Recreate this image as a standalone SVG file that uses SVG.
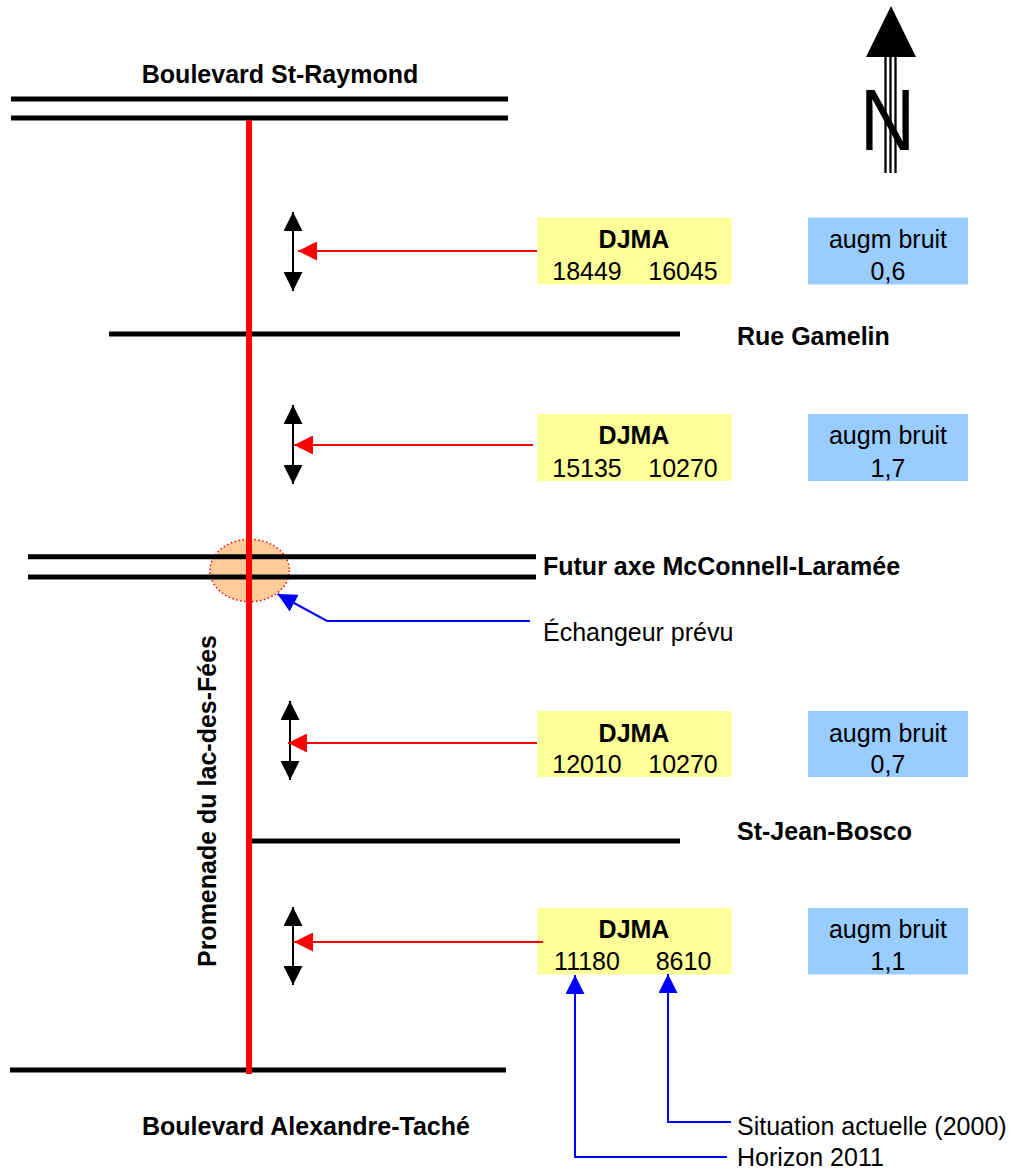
<svg xmlns="http://www.w3.org/2000/svg" width="1013" height="1173" viewBox="0 0 1013 1173">
<defs>
<style>
text{font-family:"Liberation Sans",Arial,sans-serif;font-size:25px;fill:#000}
.b{font-weight:bold}
.m{text-anchor:middle}
.road{stroke:#000;stroke-width:5;fill:none}
.yel{fill:#FFFF99}
.blu{fill:#99CCFF}
.dbl{stroke:#000;stroke-width:2;fill:none;marker-start:url(#ahK);marker-end:url(#ahK)}
.red{stroke:#FF0000;stroke-width:2;fill:none;marker-end:url(#ahR)}
.bl{stroke:#0000FF;stroke-width:2;fill:none;marker-end:url(#ahB)}
</style>
<marker id="ahK" viewBox="0 0 10 10" refX="10" refY="5" markerWidth="19" markerHeight="19" markerUnits="userSpaceOnUse" orient="auto-start-reverse"><path d="M0,0 L10,5 L0,10 z" fill="#000"/></marker>
<marker id="ahR" viewBox="0 0 10 10" refX="10" refY="5" markerWidth="19" markerHeight="19" markerUnits="userSpaceOnUse" orient="auto"><path d="M0,0 L10,5 L0,10 z" fill="#FF0000"/></marker>
<marker id="ahB" viewBox="0 0 10 10" refX="10" refY="5" markerWidth="19" markerHeight="19" markerUnits="userSpaceOnUse" orient="auto"><path d="M0,0 L10,5 L0,10 z" fill="#0000FF"/></marker>
</defs>
<rect width="1013" height="1173" fill="#fff"/>

<g id="north">
<polygon points="891,6 866,57 916,57" fill="#000"/>
<line x1="885.5" y1="56" x2="885.5" y2="173" stroke="#000" stroke-width="2.3"/>
<line x1="890.5" y1="56" x2="890.5" y2="173" stroke="#000" stroke-width="2.3"/>
<line x1="895.5" y1="56" x2="895.5" y2="173" stroke="#000" stroke-width="2.3"/>
<text transform="translate(887.5,150) scale(0.88,1)" class="m" style="font-size:86.6px">N</text>
</g>

<g id="interchange">
<ellipse cx="249.7" cy="570.5" rx="39.7" ry="31.2" fill="#FFCC99" stroke="#FF0000" stroke-width="1.5" stroke-dasharray="1.5 2.5"/>
</g>

<g id="roads">
<line class="road" x1="11" y1="99" x2="508" y2="99"/>
<line class="road" x1="11" y1="118" x2="508" y2="118"/>
<line class="road" x1="109" y1="334" x2="680" y2="334"/>
<line class="road" x1="28" y1="556.7" x2="536" y2="556.7"/>
<line class="road" x1="28" y1="577" x2="536" y2="577"/>
<line class="road" x1="252" y1="841" x2="680" y2="841"/>
<line class="road" x1="10" y1="1070" x2="506" y2="1070"/>
<line x1="249" y1="120" x2="249" y2="1074" stroke="#FF0000" stroke-width="6"/>
</g>

<g id="labels">
<text class="b m" x="280" y="83">Boulevard St-Raymond</text>
<text class="b" x="737" y="345">Rue Gamelin</text>
<text class="b" x="543" y="575">Futur axe McConnell-Laramée</text>
<text x="543" y="641">Échangeur prévu</text>
<text class="b" x="737" y="840">St-Jean-Bosco</text>
<text class="b" x="142" y="1135">Boulevard Alexandre-Taché</text>
<text x="737" y="1135">Situation actuelle (2000)</text>
<text x="737" y="1166">Horizon 2011</text>
<text class="b m" transform="translate(216,801) rotate(-90)">Promenade du lac-des-Fées</text>
</g>

<g id="djma1">
<rect class="yel" x="537.5" y="217.5" width="194" height="67"/>
<text class="b m" x="634" y="247.5">DJMA</text>
<text class="m" x="587" y="280">18449</text>
<text class="m" x="683" y="280">16045</text>
</g>
<g id="bruit1">
<rect class="blu" x="808" y="217.5" width="160" height="67"/>
<text class="m" x="888" y="247.5">augm bruit</text>
<text class="m" x="888" y="280">0,6</text>
</g>

<g id="djma2">
<rect class="yel" x="537.5" y="414" width="194" height="67"/>
<text class="b m" x="634" y="444">DJMA</text>
<text class="m" x="587" y="476.5">15135</text>
<text class="m" x="683" y="476.5">10270</text>
</g>
<g id="bruit2">
<rect class="blu" x="808" y="414" width="160" height="67"/>
<text class="m" x="888" y="444">augm bruit</text>
<text class="m" x="888" y="476.5">1,7</text>
</g>

<g id="djma3">
<rect class="yel" x="537.5" y="711" width="194" height="66"/>
<text class="b m" x="634" y="741.5">DJMA</text>
<text class="m" x="587" y="773">12010</text>
<text class="m" x="683" y="773">10270</text>
</g>
<g id="bruit3">
<rect class="blu" x="808" y="711" width="160" height="66"/>
<text class="m" x="888" y="741.5">augm bruit</text>
<text class="m" x="888" y="773">0,7</text>
</g>

<g id="djma4">
<rect class="yel" x="537.5" y="908" width="194" height="66.5"/>
<text class="b m" x="634" y="938">DJMA</text>
<text class="m" x="587" y="970">11180</text>
<text class="m" x="683.5" y="970">8610</text>
</g>
<g id="bruit4">
<rect class="blu" x="808" y="908" width="160" height="66.5"/>
<text class="m" x="888" y="938">augm bruit</text>
<text class="m" x="888" y="970">1,1</text>
</g>

<g id="connectors">
<line class="dbl" x1="293" y1="212" x2="293" y2="291"/>
<line class="dbl" x1="293" y1="405" x2="293" y2="484"/>
<line class="dbl" x1="290" y1="701" x2="290" y2="780"/>
<line class="dbl" x1="293" y1="907" x2="293" y2="985"/>
<line class="red" x1="537" y1="251" x2="298" y2="251"/>
<line class="red" x1="533" y1="445" x2="294" y2="445"/>
<line class="red" x1="537" y1="743" x2="288" y2="743"/>
<line class="red" x1="543" y1="942" x2="294" y2="942"/>
<path class="bl" d="M530,621 H327 L277.5,594"/>
<path class="bl" d="M731,1122 H668 V974"/>
<path class="bl" d="M727,1157 H575 V975"/>
</g>
</svg>
